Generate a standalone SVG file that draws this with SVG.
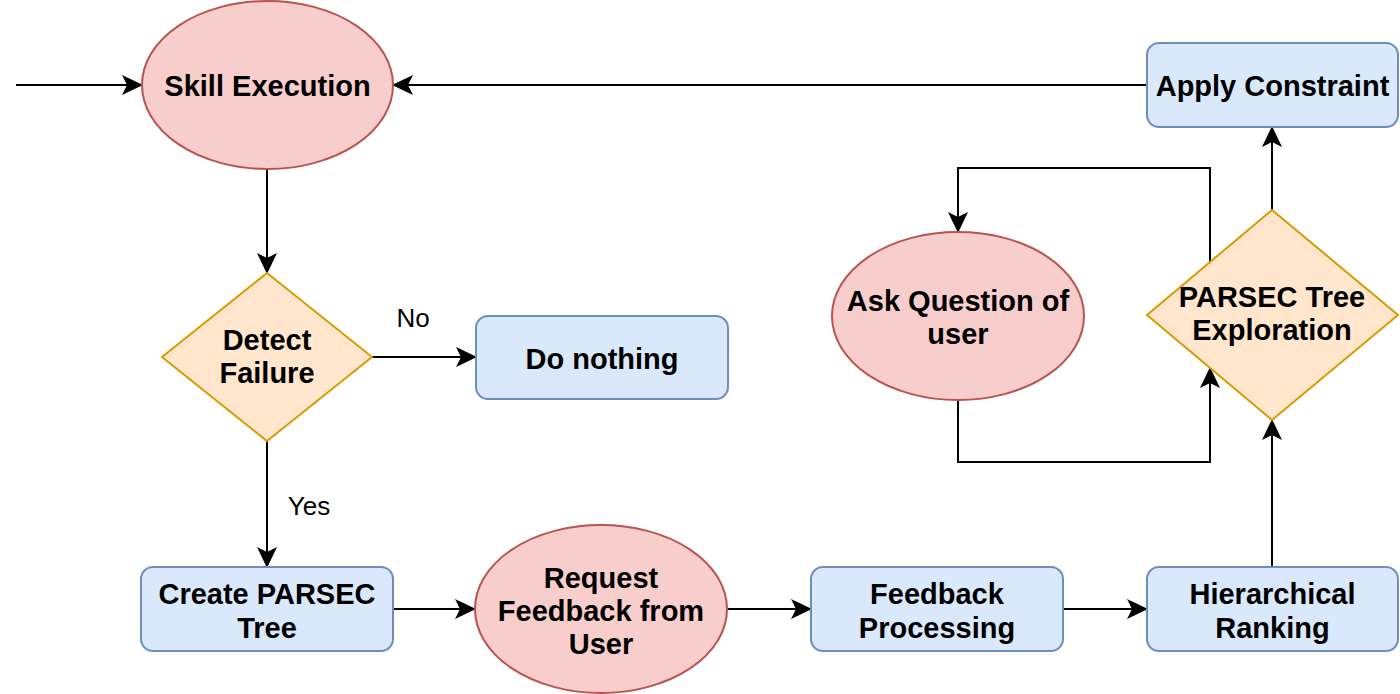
<svg xmlns="http://www.w3.org/2000/svg" width="1400" height="694" viewBox="0 0 1400 694">
<style>
.t{font-family:"Liberation Sans",Arial,sans-serif;font-weight:bold;font-size:29px;text-anchor:middle;fill:#000}
.l{font-family:"Liberation Sans",Arial,sans-serif;font-size:26px;text-anchor:middle;fill:#000}
.red{fill:#f8cecc;stroke:#b85450;stroke-width:2}
.org{fill:#ffe6cc;stroke:#d79b00;stroke-width:2}
.blu{fill:#dae8fc;stroke:#6c8ebf;stroke-width:2}
.c{fill:none;stroke:#000;stroke-width:2;marker-end:url(#a)}
</style>
<defs>
<marker id="a" markerUnits="userSpaceOnUse" markerWidth="22" markerHeight="22" viewBox="0 0 22 22" refX="20" refY="10" orient="auto">
<path d="M0,0 L21,10 L0,20 L5,10 z" fill="#000"/>
</marker>
</defs>
<rect width="1400" height="694" fill="#fff"/>
<g id="connectors">
<path class="c" d="M16,85 H142"/>
<path class="c" d="M1147,85 H393"/>
<path class="c" d="M267,169 V273"/>
<path class="c" d="M372,357 H476"/>
<path class="c" d="M267,441 V567"/>
<path class="c" d="M393,609 H475"/>
<path class="c" d="M727,609 H811"/>
<path class="c" d="M1063,609 H1147"/>
<path class="c" d="M1272,567 V420"/>
<path class="c" d="M1272,210 V127"/>
<path class="c" d="M1210,262 V168 H958 V232"/>
<path class="c" d="M958,400 V462 H1210 V368"/>
<text class="l" x="413" y="327">No</text>
<text class="l" x="309" y="515">Yes</text>
</g>
<g id="skill-execution">
<ellipse class="red" cx="267.5" cy="85" rx="125.5" ry="84"/>
<text class="t" x="267.5" y="96">Skill Execution</text>
</g>
<g id="apply-constraint">
<rect class="blu" x="1147" y="43" width="251" height="84" rx="12"/>
<text class="t" x="1272.5" y="96">Apply Constraint</text>
</g>
<g id="detect-failure">
<polygon class="org" points="267,273 372,357 267,441 162,357"/>
<text class="t" x="267" y="350">Detect</text>
<text class="t" x="267" y="383">Failure</text>
</g>
<g id="do-nothing">
<rect class="blu" x="476" y="316" width="252" height="83" rx="12"/>
<text class="t" x="602" y="369">Do nothing</text>
</g>
<g id="create-parsec-tree">
<rect class="blu" x="141" y="567" width="252" height="84" rx="12"/>
<text class="t" x="267" y="604">Create PARSEC</text>
<text class="t" x="267" y="638">Tree</text>
</g>
<g id="request-feedback">
<ellipse class="red" cx="601" cy="609" rx="126" ry="84"/>
<text class="t" x="601" y="588">Request</text>
<text class="t" x="601" y="621">Feedback from</text>
<text class="t" x="601" y="654">User</text>
</g>
<g id="feedback-processing">
<rect class="blu" x="811" y="567" width="252" height="84" rx="12"/>
<text class="t" x="937" y="604">Feedback</text>
<text class="t" x="937" y="638">Processing</text>
</g>
<g id="hierarchical-ranking">
<rect class="blu" x="1147" y="567" width="251" height="84" rx="12"/>
<text class="t" x="1272.5" y="604">Hierarchical</text>
<text class="t" x="1272.5" y="638">Ranking</text>
</g>
<g id="parsec-tree-exploration">
<polygon class="org" points="1272,210 1398,315 1272,420 1147,315"/>
<text class="t" x="1272" y="307">PARSEC Tree</text>
<text class="t" x="1272" y="340">Exploration</text>
</g>
<g id="ask-question">
<ellipse class="red" cx="958" cy="316" rx="126" ry="84"/>
<text class="t" x="958" y="311">Ask Question of</text>
<text class="t" x="958" y="344">user</text>
</g>
</svg>
